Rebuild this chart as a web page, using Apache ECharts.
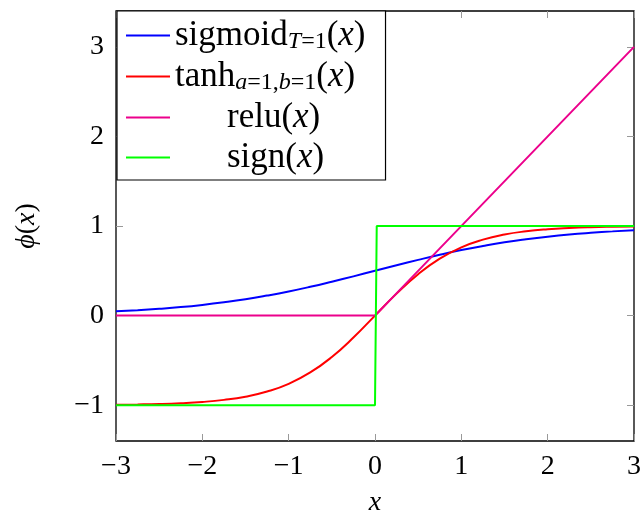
<!DOCTYPE html>
<html>
<head><meta charset="utf-8">
<script src="https://cdn.jsdelivr.net/npm/echarts@6/dist/echarts.min.js"></script>
</head>
<body style="margin:0;background:#fff;">
<div id="main" style="width:641px;height:511px;"></div>
<script type="text/javascript">
// x samples
var xs = [-3, -2.75, -2.5, -2.25, -2, -1.75, -1.5, -1.25, -1, -0.75, -0.5, -0.25, 0,
          0.25, 0.5, 0.75, 1, 1.25, 1.5, 1.75, 2, 2.25, 2.5, 2.75, 3]
var sigmoidY = [0.047, 0.060, 0.076, 0.095, 0.119, 0.148, 0.182, 0.223, 0.269, 0.321, 0.378, 0.438, 0.5,
                0.562, 0.622, 0.679, 0.731, 0.777, 0.818, 0.852, 0.881, 0.905, 0.924, 0.940, 0.953]
var tanhY = [-0.995, -0.992, -0.987, -0.978, -0.964, -0.941, -0.905, -0.848, -0.762, -0.635, -0.462, -0.245, 0,
             0.245, 0.462, 0.635, 0.762, 0.848, 0.905, 0.941, 0.964, 0.978, 0.987, 0.992, 0.995]
var reluX = [-3, 0, 3]
var reluY = [0, 0, 3]
var signX = [-3, 0, 0.02, 3]
var signY = [-1, -1, 1, 1]
var xTicks = [-3, -2, -1, 0, 1, 2, 3]
var yTicks = [-1, 0, 1, 2, 3]

function pairs(a, b) {
    var out = []
    for (var i = 0; i < a.length; i++) out.push([a[i], b[i]])
    return out
}
function minus(v) { return String(v).replace('-', '\u2212') }

var serif = '"Liberation Serif", serif'
var rich = {
    rm: {fontFamily: serif, fontSize: 35, lineHeight: 37, verticalAlign: 'middle', color: '#000'},
    it: {fontFamily: serif, fontSize: 35, fontStyle: 'italic', lineHeight: 37, verticalAlign: 'middle', color: '#000'},
    sub: {fontFamily: serif, fontSize: 24, fontStyle: 'italic', lineHeight: 16, verticalAlign: 'bottom', color: '#000'},
    subrm: {fontFamily: serif, fontSize: 24, lineHeight: 16, verticalAlign: 'bottom', color: '#000'},
    pad: {width: 52, lineHeight: 37}
}
var labels = {
    s: '{rm|sigmoid}{sub|T}{subrm|=1}{rm|(}{it|x}{rm|)}',
    t: '{rm|tanh}{sub|a}{subrm|=1,}{sub|b}{subrm|=1}{rm|(}{it|x}{rm|)}',
    r: '{pad|}{rm|relu(}{it|x}{rm|)}',
    g: '{pad|}{rm|sign(}{it|x}{rm|)}'
}

var tickStyle = {show: true, inside: true, length: 7, lineStyle: {color: '#999', width: 1}}
var noLine = {show: false, onZero: false}

var myChart = echarts.init(document.getElementById('main'))
myChart.setOption({
    animation: false,
    grid: {left: 116, right: 7, top: 11, bottom: 70, containLabel: false, outerBoundsMode: 'none',
           show: true, borderColor: '#000', borderWidth: 1.3},
    legend: {
        orient: 'vertical', left: 117, top: 11,
        backgroundColor: '#fff', borderColor: '#000', borderWidth: 1.2,
        padding: [7, 20, 5, 9], itemGap: 5,
        icon: 'rect', itemWidth: 44, itemHeight: 2,
        formatter: function (n) { return labels[n] },
        textStyle: {color: '#000', rich: rich}
    },
    xAxis: [{
        type: 'value', min: -3, max: 3, position: 'bottom',
        name: 'x', nameLocation: 'middle', nameGap: 48,
        nameTextStyle: {fontFamily: serif, fontSize: 28, fontStyle: 'italic', color: '#000'},
        axisLine: noLine, splitLine: {show: false},
        axisTick: Object.assign({customValues: xTicks}, tickStyle),
        axisLabel: {customValues: xTicks, formatter: minus, fontFamily: serif, fontSize: 28, color: '#000', margin: 12}
    }, {
        type: 'value', min: -3, max: 3, position: 'top',
        axisLine: noLine, splitLine: {show: false}, axisLabel: {show: false},
        axisTick: Object.assign({customValues: xTicks}, tickStyle)
    }],
    yAxis: [{
        type: 'value', min: -1.4, max: 3.4, position: 'left',
        name: '{it|\u03d5}{rm|(}{it|x}{rm|)}', nameLocation: 'middle', nameGap: 75, nameRotate: 90,
        nameTextStyle: {color: '#000', rich: {
            rm: {fontFamily: serif, fontSize: 28, color: '#000'},
            it: {fontFamily: serif, fontSize: 28, fontStyle: 'italic', color: '#000'}
        }},
        axisLine: noLine, splitLine: {show: false},
        axisTick: Object.assign({customValues: yTicks}, tickStyle),
        axisLabel: {customValues: yTicks, formatter: minus, fontFamily: serif, fontSize: 28, color: '#000', margin: 12}
    }, {
        type: 'value', min: -1.4, max: 3.4, position: 'right',
        axisLine: noLine, splitLine: {show: false}, axisLabel: {show: false},
        axisTick: Object.assign({customValues: yTicks}, tickStyle)
    }],
    series: [
        {name: 's', type: 'line', data: pairs(xs, sigmoidY), smooth: true, symbol: 'none',
         lineStyle: {color: '#0000ff', width: 2}, itemStyle: {color: '#0000ff'}},
        {name: 't', type: 'line', data: pairs(xs, tanhY), smooth: true, symbol: 'none',
         lineStyle: {color: '#ff0000', width: 2}, itemStyle: {color: '#ff0000'}},
        {name: 'r', type: 'line', data: pairs(reluX, reluY), symbol: 'none',
         lineStyle: {color: '#ec008c', width: 2}, itemStyle: {color: '#ec008c'}},
        {name: 'g', type: 'line', data: pairs(signX, signY), symbol: 'none',
         lineStyle: {color: '#00ff00', width: 2}, itemStyle: {color: '#00ff00'}}
    ]
})
</script>
</body>
</html>
